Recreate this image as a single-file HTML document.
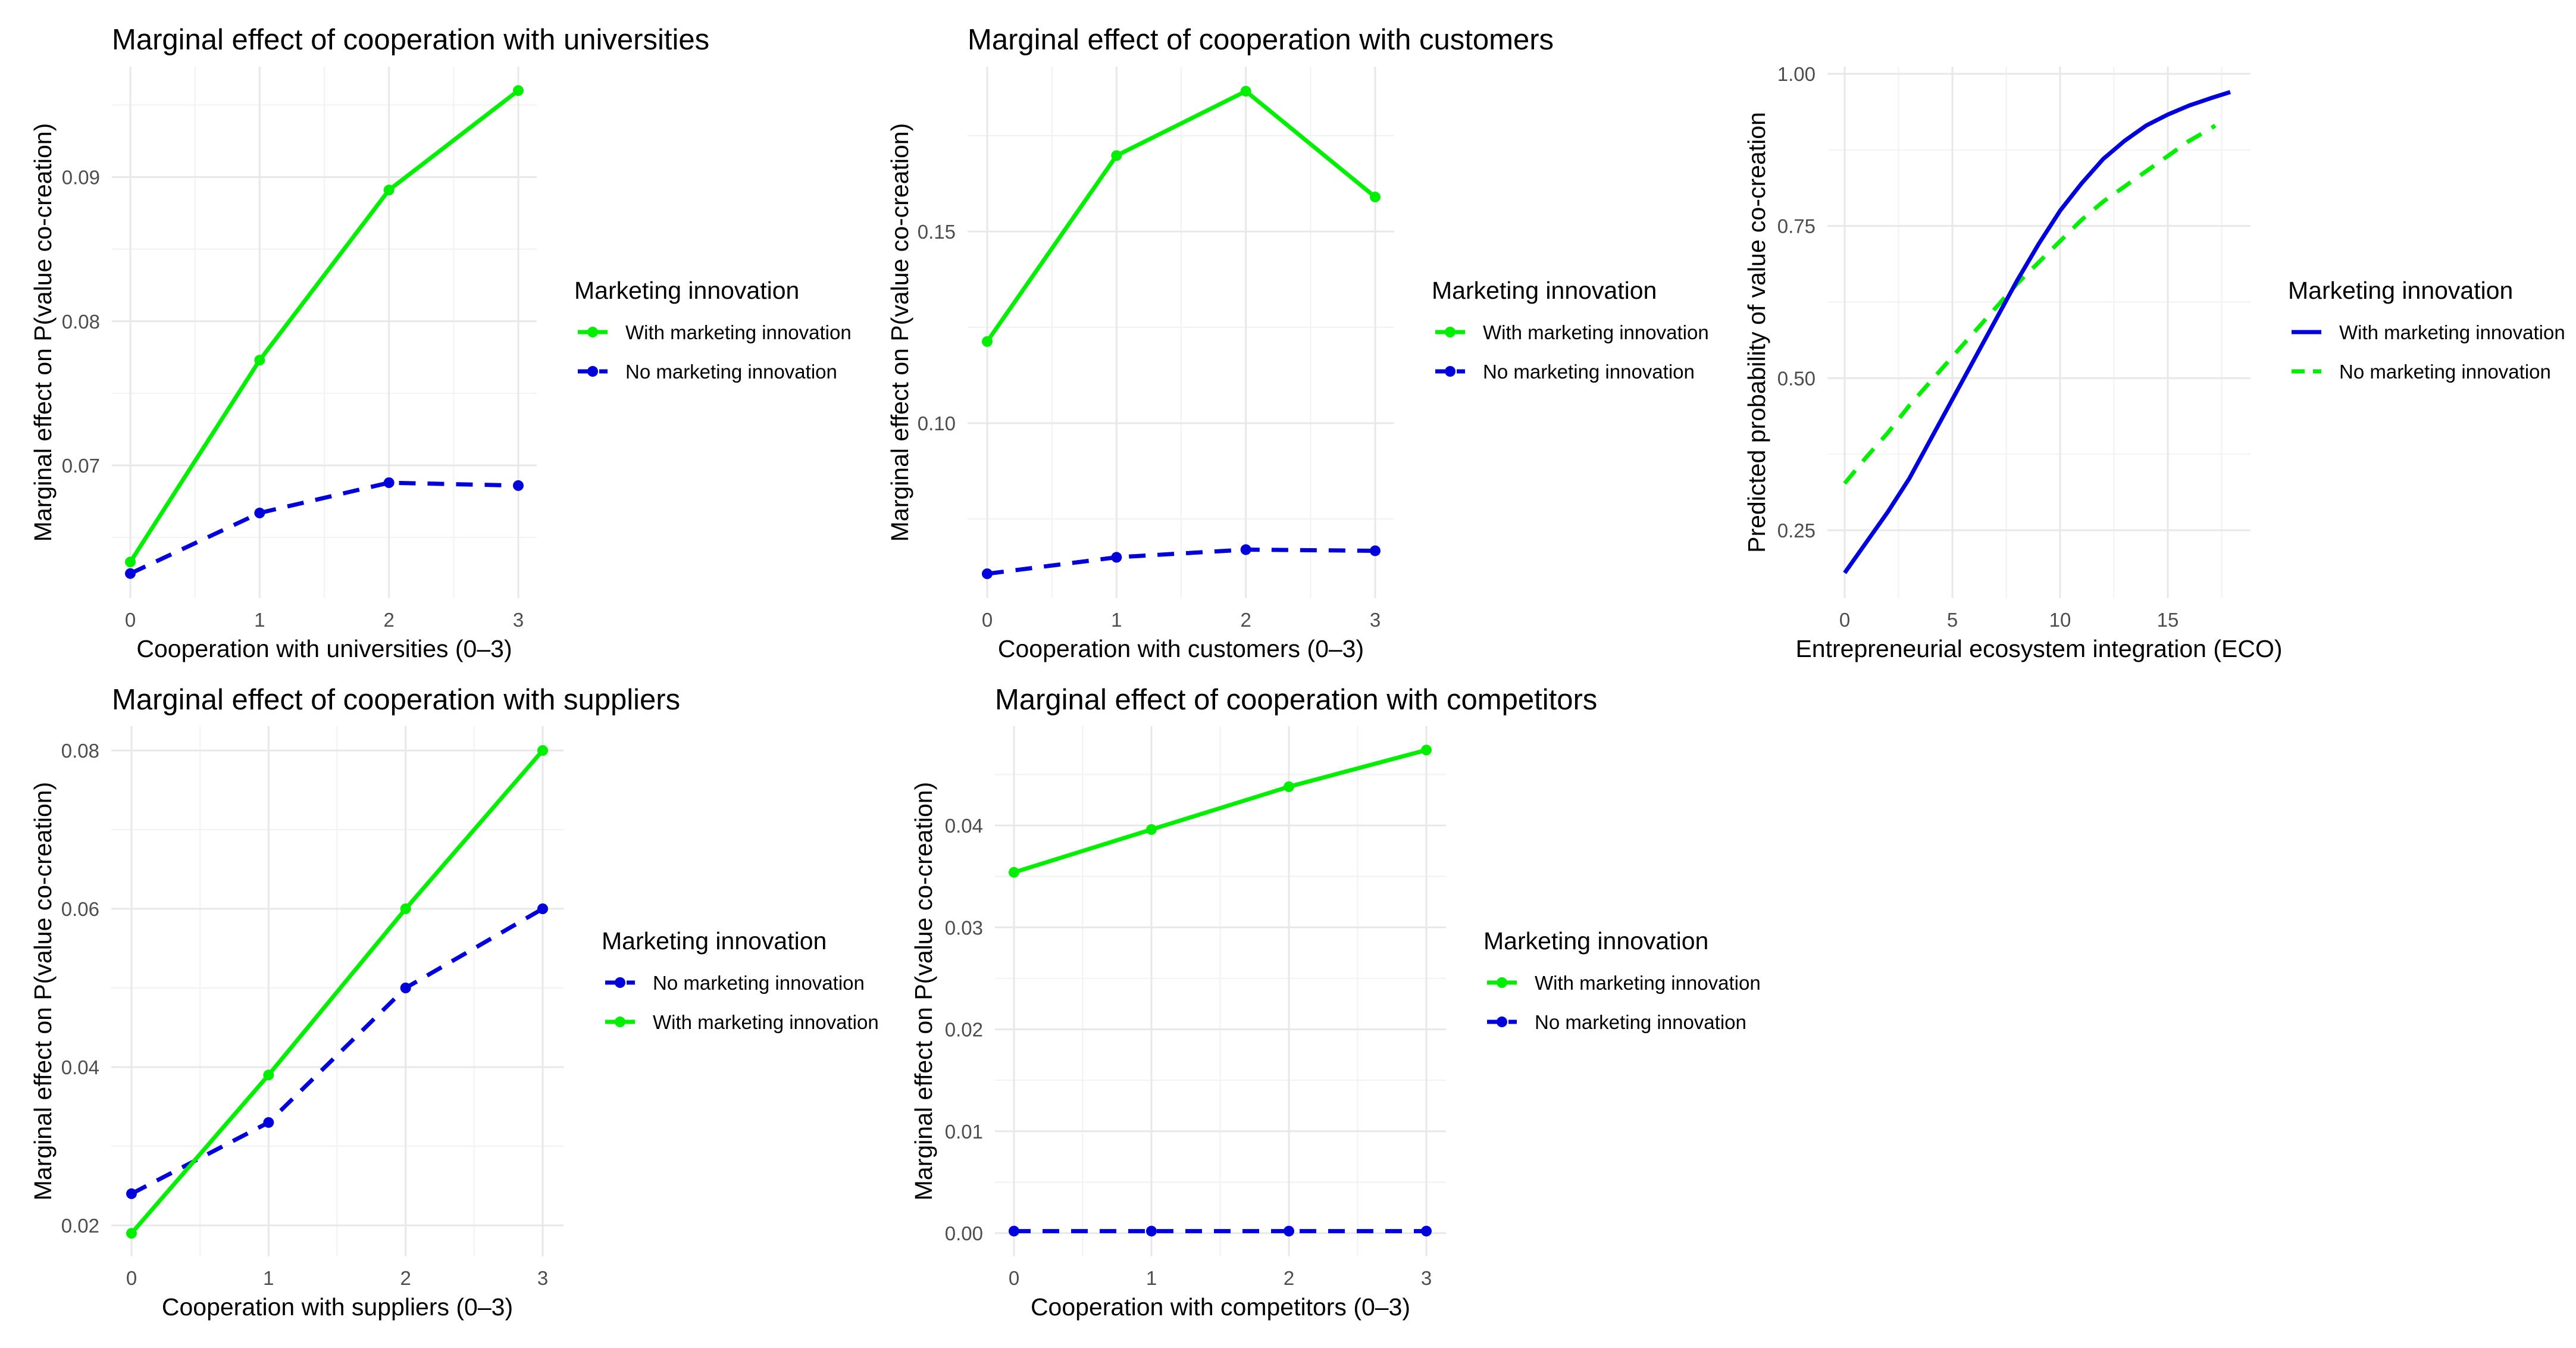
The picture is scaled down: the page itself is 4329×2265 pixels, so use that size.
<!DOCTYPE html>
<html><head><meta charset="utf-8"><style>
html,body{margin:0;padding:0;background:#fff;}
svg{display:block;}
text{font-family:"Liberation Sans",Arial,sans-serif;}
</style></head><body>
<svg id="fig" width="4329" height="2265" viewBox="0 0 4329 2265" xmlns="http://www.w3.org/2000/svg"></svg>
<script>
// ---- Panel 1: universities ----
const p1Categories = [0, 1, 2, 3];
const p1With = [0.0633, 0.0773, 0.0891, 0.0960];
const p1No = [0.0625, 0.0667, 0.0688, 0.0686];
const p1YTicks = [0.07, 0.08, 0.09];
const p1YLabels = ["0.07", "0.08", "0.09"];
// ---- Panel 2: customers ----
const p2Categories = [0, 1, 2, 3];
const p2With = [0.1213, 0.1698, 0.1866, 0.1590];
const p2No = [0.0607, 0.0650, 0.0670, 0.0667];
const p2YTicks = [0.10, 0.15];
const p2YLabels = ["0.10", "0.15"];
// ---- Panel 3: ECO ----
const p3XWith = [0,1,2,3,4,5,6,7,8,9,10,11,12,13,14,15,16,17,17.9];
const p3With = [0.18,0.23,0.28,0.335,0.40,0.465,0.53,0.595,0.66,0.72,0.775,0.82,0.86,0.89,0.915,0.933,0.948,0.96,0.97];
const p3XNo = [0,1,2,3,4,5,6,7,8,9,10,11,12,13,14,15,16,17,17.2];
const p3No = [0.327,0.37,0.41,0.455,0.495,0.535,0.575,0.615,0.655,0.69,0.725,0.76,0.79,0.815,0.84,0.865,0.89,0.91,0.915];
const p3XTicks = [0, 5, 10, 15];
const p3YTicks = [0.25, 0.50, 0.75, 1.00];
const p3YLabels = ["0.25", "0.50", "0.75", "1.00"];
// ---- Panel 4: suppliers ----
const p4Categories = [0, 1, 2, 3];
const p4With = [0.019, 0.039, 0.060, 0.080];
const p4No = [0.024, 0.033, 0.050, 0.060];
const p4YTicks = [0.02, 0.04, 0.06, 0.08];
const p4YLabels = ["0.02", "0.04", "0.06", "0.08"];
// ---- Panel 5: competitors ----
const p5Categories = [0, 1, 2, 3];
const p5With = [0.0354, 0.0396, 0.0438, 0.0474];
const p5No = [0.0002, 0.0002, 0.0002, 0.0002];
const p5YTicks = [0.00, 0.01, 0.02, 0.03, 0.04];
const p5YLabels = ["0.00", "0.01", "0.02", "0.03", "0.04"];

const NS = "http://www.w3.org/2000/svg";
const fig = document.getElementById('fig');
const GREEN = "#00ee00", BLUE = "#0000dd";
function mk(tag, attrs, parent, txt){
  const e = document.createElementNS(NS, tag);
  for (const k in attrs) e.setAttribute(k, attrs[k]);
  if (txt !== undefined) e.textContent = txt;
  (parent || fig).appendChild(e);
  return e;
}
function linear(d0, d1, r0, r1){ return v => r0 + (v - d0) / (d1 - d0) * (r1 - r0); }

function panel(cfg){
  const g = mk('g', {});
  
  
  const X = linear(cfg.xd[0], cfg.xd[1], cfg.xr[0], cfg.xr[1]);
  const Y = linear(cfg.yd[0], cfg.yd[1], cfg.yr[0], cfg.yr[1]);
  cfg.xMinor.forEach(v => { const l = mk('line', {x1:X(v), x2:X(v), y1:cfg.top, y2:cfg.bottom, stroke:'#f2f2f2', 'stroke-width':2}, g);
      });
  cfg.yMinor.forEach(v => { const l = mk('line', {x1:cfg.left, x2:cfg.right, y1:Y(v), y2:Y(v), stroke:'#f2f2f2', 'stroke-width':2}, g);
      });
  cfg.xTicks.forEach((v, i) => {
    const l = mk('line', {x1:X(v), x2:X(v), y1:cfg.top, y2:cfg.bottom, stroke:'#e8e8e8', 'stroke-width':3}, g);
     
    const t = mk('text', {x:X(v), y:cfg.bottom + 48, 'text-anchor':'middle', 'font-size':33, fill:'#4d4d4d'}, g, String(cfg.xTicks[i]));
     
  });
  cfg.yTicks.forEach((v, i) => {
    const l = mk('line', {x1:cfg.left, x2:cfg.right, y1:Y(v), y2:Y(v), stroke:'#e8e8e8', 'stroke-width':3}, g);
     
    const t = mk('text', {x:cfg.left - 20, y:Y(v) + 12, 'text-anchor':'end', 'font-size':33, fill:'#4d4d4d'}, g, cfg.yLabels[i]);
     
  });
  if (cfg.title){
    const t = mk('text', {x:cfg.titleX, y:cfg.titleY, 'font-size':49, fill:'#000'}, g, cfg.title);
     
  }
  const xt = mk('text', {x:(cfg.left + cfg.right)/2, y:cfg.bottom + 99, 'text-anchor':'middle', 'font-size':41, fill:'#000'}, g, cfg.xTitle);
   
  const cy = (cfg.top + cfg.bottom)/2;
  const yt = mk('text', {x:cfg.yTitleX, y:cy, 'text-anchor':'middle', 'font-size':41, fill:'#000', transform:`rotate(-90 ${cfg.yTitleX} ${cy})`}, g, cfg.yTitle);
   
  cfg.series.forEach(s => {
    const pts = s.x.map((xv, i) => X(xv).toFixed(1) + ',' + Y(s.y[i]).toFixed(1)).join(' ');
    const pl = mk('polyline', {points:pts, fill:'none', stroke:s.color, 'stroke-width':7, 'stroke-linejoin':'round', 'stroke-dasharray': s.dashed ? '28 20' : 'none'}, g);
     
    if (s.points) s.x.forEach((xv, i) => {
      const c = mk('circle', {cx:X(xv), cy:Y(s.y[i]), r:9, fill:s.color}, g);
       
    });
  });
  const lg = mk('g', {}, g);
   
  const lt = mk('text', {x:cfg.legX, y:cfg.legY + 14, 'font-size':41, fill:'#000'}, lg, 'Marketing innovation');
   
  cfg.legend.forEach((e, i) => {
    const y = cfg.legY + 70 + i * 66;
    const eg = mk('g', {}, lg);
     
    mk('line', {x1:cfg.legX + 6, x2:cfg.legX + 56, y1:y, y2:y, stroke:e.color, 'stroke-width':7, 'stroke-dasharray': e.dashed ? '22 14' : 'none'}, eg);
    if (e.points) mk('circle', {cx:cfg.legX + 31, cy:y, r:9, fill:e.color}, eg);
    mk('text', {x:cfg.legX + 86, y:y + 12, 'font-size':33, fill:'#000'}, eg, e.label);
  });
}
const withL = {label:'With marketing innovation', color:GREEN, dashed:false, points:true};
const noL = {label:'No marketing innovation', color:BLUE, dashed:true, points:true};
const yTitleME = 'Marginal effect on P(value co-creation)';

panel({name:'panel-universities', title:'Marginal effect of cooperation with universities', titleX:188, titleY:83,
  left:188, right:902, top:112, bottom:1005, xd:[0,3], xr:[219,871], yd:[0.07,0.09], yr:[782,297.5],
  xTicks:p1Categories, xMinor:[0.5,1.5,2.5], yTicks:p1YTicks, yLabels:p1YLabels, yMinor:[0.065,0.075,0.085,0.095],
  xTitle:'Cooperation with universities (0\u20133)', yTitle:yTitleME, yTitleX:86,
  series:[{name:'no-innovation', x:p1Categories, y:p1No, color:BLUE, dashed:true, points:true},
          {name:'with-innovation', x:p1Categories, y:p1With, color:GREEN, dashed:false, points:true}],
  legX:965, legY:488, legend:[withL, noL]});

panel({name:'panel-customers', title:'Marginal effect of cooperation with customers', titleX:1626, titleY:83,
  left:1626, right:2343, top:112, bottom:1005, xd:[0,3], xr:[1659,2311], yd:[0.10,0.15], yr:[711,389],
  xTicks:p2Categories, xMinor:[0.5,1.5,2.5], yTicks:p2YTicks, yLabels:p2YLabels, yMinor:[0.075,0.125,0.175],
  xTitle:'Cooperation with customers (0\u20133)', yTitle:yTitleME, yTitleX:1526,
  series:[{name:'no-innovation', x:p2Categories, y:p2No, color:BLUE, dashed:true, points:true},
          {name:'with-innovation', x:p2Categories, y:p2With, color:GREEN, dashed:false, points:true}],
  legX:2406, legY:488, legend:[withL, noL]});

panel({name:'panel-eco', title:null,
  left:3071, right:3782, top:112, bottom:1005, xd:[0,15], xr:[3100,3643], yd:[0.25,1.0], yr:[891,124],
  xTicks:p3XTicks, xMinor:[2.5,7.5,12.5,17.5], yTicks:p3YTicks, yLabels:p3YLabels, yMinor:[0.375,0.625,0.875],
  xTitle:'Entrepreneurial ecosystem integration (ECO)', yTitle:'Predicted probability of value co-creation', yTitleX:2966,
  series:[{name:'no-innovation', x:p3XNo, y:p3No, color:GREEN, dashed:true, points:false},
          {name:'with-innovation', x:p3XWith, y:p3With, color:BLUE, dashed:false, points:false}],
  legX:3845, legY:488, legend:[{label:'With marketing innovation', color:BLUE, dashed:false, points:false},
                               {label:'No marketing innovation', color:GREEN, dashed:true, points:false}]});

panel({name:'panel-suppliers', title:'Marginal effect of cooperation with suppliers', titleX:188, titleY:1192,
  left:187, right:947, top:1220, bottom:2111, xd:[0,3], xr:[221,912], yd:[0.02,0.08], yr:[2059,1261],
  xTicks:p4Categories, xMinor:[0.5,1.5,2.5], yTicks:p4YTicks, yLabels:p4YLabels, yMinor:[0.03,0.05,0.07],
  xTitle:'Cooperation with suppliers (0\u20133)', yTitle:yTitleME, yTitleX:86,
  series:[{name:'no-innovation', x:p4Categories, y:p4No, color:BLUE, dashed:true, points:true},
          {name:'with-innovation', x:p4Categories, y:p4With, color:GREEN, dashed:false, points:true}],
  legX:1011, legY:1581, legend:[noL, withL]});

panel({name:'panel-competitors', title:'Marginal effect of cooperation with competitors', titleX:1672, titleY:1192,
  left:1672, right:2430, top:1220, bottom:2111, xd:[0,3], xr:[1704,2397], yd:[0,0.04], yr:[2072,1387],
  xTicks:p5Categories, xMinor:[0.5,1.5,2.5], yTicks:p5YTicks, yLabels:p5YLabels, yMinor:[0.005,0.015,0.025,0.035,0.045],
  xTitle:'Cooperation with competitors (0\u20133)', yTitle:yTitleME, yTitleX:1566,
  series:[{name:'no-innovation', x:p5Categories, y:p5No, color:BLUE, dashed:true, points:true},
          {name:'with-innovation', x:p5Categories, y:p5With, color:GREEN, dashed:false, points:true}],
  legX:2493, legY:1581, legend:[withL, noL]});
</script>
</body></html>
